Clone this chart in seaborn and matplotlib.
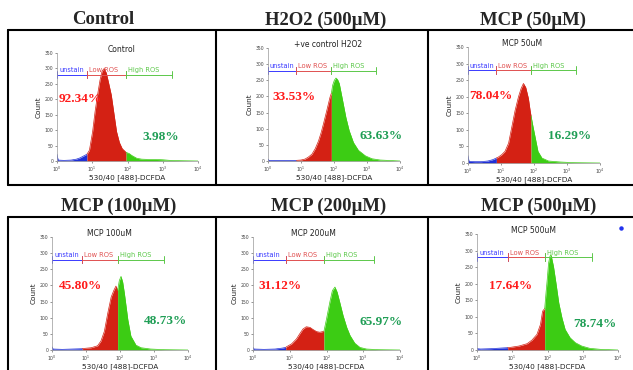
import numpy as np
import pandas as pd
import matplotlib
matplotlib.use('Agg')
import matplotlib.pyplot as plt
from matplotlib.lines import Line2D
import seaborn as sns

sns.set_style('ticks')
plt.rcParams['font.family'] = ['DejaVu Sans']

W, H = 633, 370

panel_titles = ['Control', 'H2O2 (500µM)', 'MCP (50µM)', 'MCP (100µM)', 'MCP (200µM)', 'MCP (500µM)']
inner_titles = ['Control', '+ve control H2O2', 'MCP 50uM', 'MCP 100uM', 'MCP 200uM', 'MCP 500uM']
low_pct = ['92.34%', '33.53%', '78.04%', '45.80%', '31.12%', '17.64%']
high_pct = ['3.98%', '63.63%', '16.29%', '48.73%', '65.97%', '78.74%']
gate_names = ['unstain', 'Low ROS', 'High ROS']

# gate edges in log10 units (unstain end, low ROS end, high ROS end)
gates = [
    [0.85, 1.96, 3.26],
    [0.86, 1.92, 3.26],
    [0.86, 1.91, 3.27],
    [0.89, 1.93, 3.28],
    [0.89, 1.93, 3.29],
    [0.87, 1.92, 3.27],
]

# histograms: log10 intensity and count
lx_ctrl = [0.0, 0.03, 0.2, 0.4, 0.55, 0.65, 0.75, 0.85, 0.92, 1.01, 1.08, 1.15, 1.22, 1.28, 1.34, 1.40, 1.47,
           1.54, 1.62, 1.69, 1.77, 1.85, 1.96, 2.05, 2.12, 2.26, 2.4, 2.6, 2.8, 3.0, 3.2, 3.5, 4.0]
cnt_ctrl = [22, 3, 2, 3, 6, 10, 16, 22, 35, 95, 160, 214, 262, 292, 300, 285, 250,
            214, 150, 95, 60, 40, 28, 24, 18, 9, 6, 5, 5, 4, 2, 1, 0]

lx_h2o2 = [0.0, 0.03, 0.3, 0.6, 0.86, 1.0, 1.12, 1.22, 1.33, 1.43, 1.53, 1.61, 1.68, 1.78, 1.88, 1.92,
           1.96, 2.01, 2.06, 2.11, 2.16, 2.26, 2.36, 2.46, 2.59, 2.74, 2.95, 3.15, 3.4, 3.8, 4.0]
cnt_h2o2 = [6, 2, 2, 2, 2, 3, 6, 12, 21, 38, 62, 88, 115, 156, 198, 210,
            235, 250, 257, 252, 240, 188, 135, 94, 57, 33, 16, 7, 3, 1, 0]

lx_50 = [0.0, 0.03, 0.2, 0.4, 0.6, 0.75, 0.86, 0.92, 1.02, 1.12, 1.23, 1.33, 1.43, 1.53, 1.61, 1.68,
         1.75, 1.83, 1.88, 1.91, 1.96, 2.04, 2.12, 2.24, 2.44, 2.8, 3.2, 4.0]
cnt_50 = [22, 5, 4, 4, 6, 10, 15, 18, 25, 35, 60, 110, 160, 200, 225, 240,
          228, 195, 160, 142, 115, 75, 35, 15, 6, 3, 1, 0]

lx_100 = [0.0, 0.03, 0.3, 0.6, 0.89, 0.95, 1.15, 1.34, 1.44, 1.54, 1.64, 1.74, 1.82, 1.88, 1.93,
          1.98, 2.03, 2.08, 2.13, 2.23, 2.32, 2.47, 2.62, 2.9, 3.3, 4.0]
cnt_100 = [10, 3, 2, 3, 4, 5, 7, 13, 28, 58, 114, 164, 185, 198, 185,
           215, 228, 210, 175, 94, 43, 15, 7, 3, 1, 0]

lx_200 = [0.0, 0.03, 0.3, 0.6, 0.8, 0.89, 0.91, 1.05, 1.18, 1.27, 1.36, 1.45, 1.55, 1.64, 1.73, 1.82,
          1.93, 2.0, 2.09, 2.16, 2.23, 2.29, 2.36, 2.45, 2.55, 2.64, 2.77, 2.91, 3.09, 3.4, 4.0]
cnt_200 = [8, 3, 2, 3, 6, 8, 10, 19, 34, 50, 65, 72, 70, 63, 57, 55,
           58, 96, 148, 184, 195, 179, 148, 107, 70, 45, 21, 8, 3, 1, 0]

lx_500 = [0.0, 0.1, 0.4, 0.7, 0.87, 0.95, 1.19, 1.42, 1.56, 1.70, 1.80, 1.86, 1.92, 1.96, 1.99,
          2.03, 2.07, 2.10, 2.17, 2.24, 2.32, 2.41, 2.50, 2.64, 2.79, 2.97, 3.2, 3.5, 4.0]
cnt_500 = [4, 3, 4, 6, 7, 8, 12, 19, 30, 47, 77, 117, 125, 175, 210,
           262, 283, 287, 252, 202, 142, 97, 62, 37, 22, 12, 5, 2, 0]

hists = [(lx_ctrl, cnt_ctrl), (lx_h2o2, cnt_h2o2), (lx_50, cnt_50),
         (lx_100, cnt_100), (lx_200, cnt_200), (lx_500, cnt_500)]

# layout (pixels): axes x0, x1, y of 350, y of 0
ax_px = [(57, 198, 53, 161), (268, 400, 48, 161), (468, 600, 47, 163),
         (52, 188, 237, 350), (253, 400, 237, 350), (477, 618, 234, 350)]
title_px = [(103, 19), (326, 20), (533, 20), (119, 206), (329, 206), (539, 206)]
low_pos = [(0.06, 200), (0.14, 197), (0.05, 202), (0.2, 199), (0.16, 198), (0.35, 192)]
high_pos = [(2.41, 78), (2.78, 76), (2.43, 80), (2.70, 90), (2.91, 86), (2.73, 77)]
inner_pos = [1.82, 1.81, 1.65, 1.68, 1.64, 1.60]

fill_cols = ['#1f2fd6', '#d42114', '#3ccc14']
gate_cols = ['#3a3aff', '#e05050', '#5cc84a']

fig = plt.figure(figsize=(W / 100, H / 100), dpi=100)

for i, (lx, cnt) in enumerate(hists):
    x0, x1, yt, yb = ax_px[i]
    ax = fig.add_axes([x0 / W, 1 - yb / H, (x1 - x0) / W, (yb - yt) / H])
    df = pd.DataFrame({'lx': lx, 'count': cnt})
    df['x'] = 10 ** df['lx']
    g1, g2, g3 = gates[i]
    parts = [df[df['lx'] <= g1], df[(df['lx'] >= g1) & (df['lx'] <= g2)], df[df['lx'] >= g2]]
    for part, col in zip(parts, fill_cols):
        ax.fill_between(part['x'], 0, part['count'], color=col, lw=0)
        sns.lineplot(data=part, x='x', y='count', color=col, lw=0.5, ax=ax, estimator=None)

    ax.set_xscale('log')
    ax.set_xlim(1, 1e4)
    ax.set_ylim(0, 350)
    ax.set_xticks([1, 10, 100, 1000, 10000])
    ax.minorticks_off()
    ax.set_yticks(range(0, 351, 50))
    ax.tick_params(labelsize=3.3, length=1.5, width=0.4, pad=1, colors='#444')
    for s in ['top', 'right']:
        ax.spines[s].set_visible(False)
    for s in ['left', 'bottom']:
        ax.spines[s].set_color('#999')
        ax.spines[s].set_linewidth(0.5)
    ax.set_xlabel('530/40 [488]-DCFDA', fontsize=5.3, labelpad=0.5, color='#222')
    ax.set_ylabel('Count', fontsize=5.3, labelpad=2, color='#222')

    # gate bars
    edges = [0, g1, g2, g3]
    for k in range(3):
        a, b = 10 ** edges[k], 10 ** edges[k + 1]
        ax.plot([a, b], [280, 280], color=gate_cols[k], lw=0.7, clip_on=False)
        ax.plot([a, a], [268, 292], color=gate_cols[k], lw=0.7, clip_on=False)
        ax.plot([b, b], [268, 292], color=gate_cols[k], lw=0.7, clip_on=False)
        ax.text(10 ** (edges[k] + 0.06), 284, gate_names[k], color=gate_cols[k],
                fontsize=4.8, va='bottom', ha='left')

    ax.text(10 ** inner_pos[i], 362, inner_titles[i], fontsize=5.5, ha='center',
            va='center', color='#222', clip_on=False)
    ax.text(10 ** low_pos[i][0], low_pos[i][1], low_pct[i], color='#ff1a1a', fontsize=9.5,
            fontweight='bold', family='Liberation Serif', va='center', ha='left')
    ax.text(10 ** high_pos[i][0], high_pos[i][1], high_pct[i], color='#1f9e55', fontsize=9.5,
            fontweight='bold', family='Liberation Serif', va='center', ha='left')

    tx, ty = title_px[i]
    fig.text(tx / W, 1 - ty / H, panel_titles[i], fontsize=13.5, fontweight='bold',
             family='Liberation Serif', ha='center', va='center')

# table borders
def hline(y, xa, xb):
    fig.add_artist(Line2D([xa / W, xb / W], [1 - y / H, 1 - y / H], color='black', lw=1.5,
                          transform=fig.transFigure))

def vline(x, ya, yb):
    fig.add_artist(Line2D([x / W, x / W], [1 - ya / H, 1 - yb / H], color='black', lw=1.5,
                          transform=fig.transFigure))

hline(30, 8, 633)
hline(185, 8, 633)
hline(217, 8, 633)
for xv in [8, 216, 428]:
    vline(xv, 30, 185)
    vline(xv, 217, 370)

fig.add_artist(Line2D([621 / W], [1 - 228 / H], marker='o', ms=2.2, color='#2233ee', lw=0,
                      transform=fig.transFigure))

fig.savefig('out.png', dpi=100)
